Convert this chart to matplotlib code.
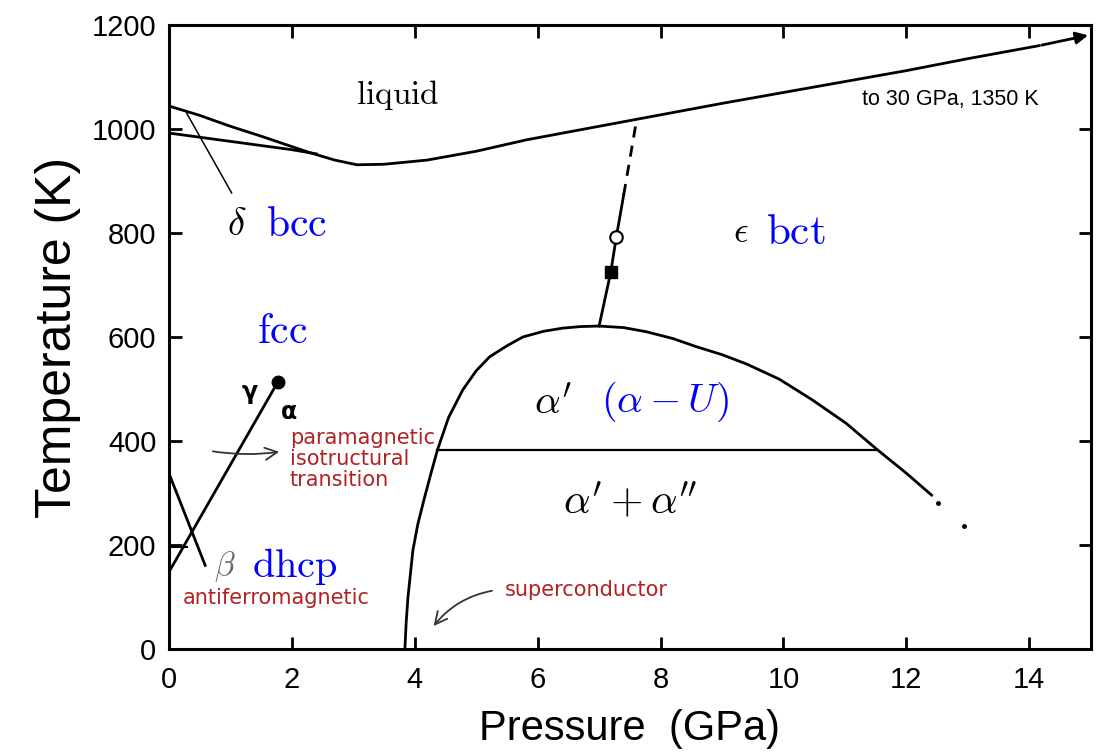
import matplotlib
matplotlib.use("Agg")
import matplotlib.pyplot as plt

plt.rcParams["mathtext.fontset"] = "cm"
plt.rcParams["font.family"] = ["Liberation Sans", "DejaVu Sans"]

# Phase boundaries (pressure in GPa, temperature in K)
melt_p = [0.0, 0.5, 1.0, 1.5, 2.0, 2.3, 2.7, 3.06, 3.5, 4.2, 5.0, 5.82, 7.0, 8.0, 9.0,
          10.0, 11.0, 12.0, 13.0, 14.16, 15.0]
melt_t = [1044, 1026, 1005, 986, 966, 954, 940, 931, 932, 940, 957, 979, 1005, 1027, 1049,
          1070, 1091, 1112, 1135, 1160, 1181]

delta_gamma_p = [0.0, 1.0, 2.0, 2.4]
delta_gamma_t = [992, 976, 960, 952]

gamma_eps_p = [7.0, 7.19, 7.28, 7.4]
gamma_eps_t = [621, 725, 792, 873]
gamma_eps_dash_p = [7.4, 7.6]
gamma_eps_dash_t = [873, 1010]

dome_p = [3.84, 3.86, 3.89, 3.93, 3.97, 4.05, 4.15, 4.26, 4.37, 4.55, 4.78, 5.0, 5.22, 5.5,
          5.76, 6.1, 6.41, 6.7, 7.0, 7.4, 7.77, 8.2, 8.59, 9.0, 9.4, 9.93, 10.47, 11.02,
          11.53, 12.0, 12.41]
dome_t = [0, 50, 100, 145, 190, 240, 287, 336, 383, 445, 498, 535, 562, 583,
          600, 611, 617, 620, 621, 618, 610, 597, 581, 566, 548, 519, 479, 434,
          383, 338, 296]
dome_dots_p = [12.52, 12.94]
dome_dots_t = [281, 236]

alpha2_p = [4.37, 11.53]
alpha2_t = [383, 383]

gamma_alpha_p = [0.0, 1.77]
gamma_alpha_t = [148, 513]
critical_p, critical_t = 1.77, 513

beta_line_p = [0.0, 0.59]
beta_line_t = [338, 161]
beta_gamma_p = [0.0, 0.3]
beta_gamma_t = [196, 196]

square_p, square_t = 7.19, 725
circle_p, circle_t = 7.28, 792

x_ticks = [0, 2, 4, 6, 8, 10, 12, 14]
y_ticks = [0, 200, 400, 600, 800, 1000, 1200]

fig = plt.figure(figsize=(11.04, 7.53), dpi=100)
ax = fig.add_axes([0.153, 0.138, 0.835, 0.829])

lw = 2.0
ax.plot(melt_p[:-1], melt_t[:-1], color="black", lw=lw)
ax.annotate("", xy=(melt_p[-1], melt_t[-1]), xytext=(melt_p[-2], melt_t[-2]),
            arrowprops=dict(arrowstyle="-|>", color="black", lw=lw, mutation_scale=18))
ax.plot(delta_gamma_p, delta_gamma_t, color="black", lw=lw)
ax.plot(gamma_eps_p, gamma_eps_t, color="black", lw=lw)
ax.plot(gamma_eps_dash_p, gamma_eps_dash_t, color="black", lw=lw, ls=(0, (4, 3)))
ax.plot(dome_p, dome_t, color="black", lw=lw)
ax.plot(dome_dots_p, dome_dots_t, "o", color="black", ms=2.5)
ax.plot(alpha2_p, alpha2_t, color="black", lw=1.6)
ax.plot(gamma_alpha_p, gamma_alpha_t, color="black", lw=lw)
ax.plot(critical_p, critical_t, "o", color="black", ms=9)
ax.plot(beta_line_p, beta_line_t, color="black", lw=lw)
ax.plot(beta_gamma_p, beta_gamma_t, color="black", lw=1.5)
ax.plot(square_p, square_t, "s", color="black", ms=8)
ax.plot(circle_p, circle_t, "o", mfc="white", mec="black", mew=1.5, ms=9)

# delta leader line
ax.plot([0.29, 1.02], [1030, 877], color="black", lw=1.1)

serif = dict(ha="center", va="center")
ax.text(3.72, 1065, r"$\mathrm{liquid}$", fontsize=24, **serif)
ax.text(1.1, 815, r"$\delta$", fontsize=28, **serif)
ax.text(2.08, 815, r"$\mathrm{bcc}$", fontsize=30, color="blue", **serif)
ax.text(1.84, 610, r"$\mathrm{fcc}$", fontsize=30, color="blue", **serif)
ax.text(9.3, 800, r"$\epsilon$", fontsize=26, **serif)
ax.text(10.2, 800, r"$\mathrm{bct}$", fontsize=31, color="blue", **serif)
ax.text(6.25, 475, r"$\alpha'$", fontsize=29, **serif)
ax.text(8.07, 475, r"$(\alpha - U)$", fontsize=29, color="blue", **serif)
ax.text(7.5, 281, r"$\alpha' + \alpha''$", fontsize=30, **serif)
ax.text(0.91, 158, r"$\beta$", fontsize=24, color="dimgray", **serif)
ax.text(2.05, 158, r"$\mathrm{dhcp}$", fontsize=29, color="blue", **serif)

ax.text(1.32, 495, "γ", fontsize=17, fontweight="bold", family="DejaVu Sans", **serif)
ax.text(1.95, 456, "α", fontsize=17, fontweight="bold", family="DejaVu Sans", **serif)

ax.text(12.72, 1056, "to 30 GPa, 1350 K", fontsize=15.5, **serif)

red = "#b22222"
ax.text(1.74, 98, "antiferromagnetic", fontsize=15, color=red, family="DejaVu Sans", **serif)
ax.text(1.97, 365, "paramagnetic\nisotructural\ntransition", fontsize=15, color=red,
        family="DejaVu Sans", ha="left", va="center", linespacing=1.05)
ax.annotate("", xy=(1.84, 380), xytext=(0.67, 381),
            arrowprops=dict(arrowstyle="->", color="#333333", lw=1.3, mutation_scale=22,
                            connectionstyle="arc3,rad=0.08"))
ax.text(5.46, 113, "superconductor", fontsize=15, color=red, family="DejaVu Sans",
        ha="left", va="center")
ax.annotate("", xy=(4.28, 40), xytext=(5.3, 113),
            arrowprops=dict(arrowstyle="->", color="#333333", lw=1.3, mutation_scale=22,
                            connectionstyle="arc3,rad=0.2"))

ax.set_xlim(0, 15)
ax.set_ylim(0, 1200)
ax.set_xticks(x_ticks)
ax.set_yticks(y_ticks)
ax.tick_params(direction="in", length=9, width=2, top=True, right=True, labelsize=21)
ax.tick_params(axis="x", pad=12)
ax.tick_params(axis="y", pad=9)
for s in ax.spines.values():
    s.set_linewidth(2.2)

ax.set_xlabel("Pressure  (GPa)", fontsize=30, labelpad=11)
ax.set_ylabel("Temperature (K)", fontsize=36, labelpad=8)

fig.savefig("out.png", dpi=100)
